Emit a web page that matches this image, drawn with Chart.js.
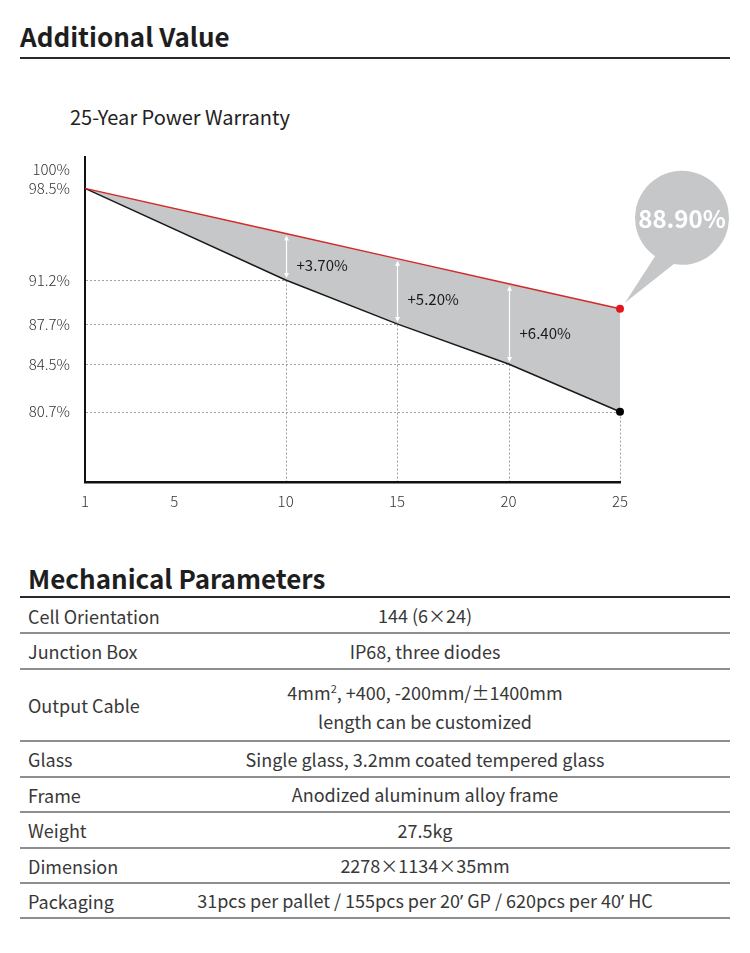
<!DOCTYPE html>
<html><head><meta charset="utf-8">
<script src="https://cdn.jsdelivr.net/npm/chart.js@4"></script>
<style>
body{margin:0;width:750px;height:953px;background:#fff;position:relative;overflow:hidden;font-family:'Noto Sans CJK SC','Noto Sans',sans-serif;color:#2a2a2a}
.abs{position:absolute}
.h{font-weight:700;color:#1e1e1e;white-space:nowrap}
.rule{position:absolute;left:20px;width:710px;height:2px;background:#2a2a2a}
.hr{position:absolute;left:20px;width:710px;height:2px;background:#8e8e8e}
.row{position:absolute;left:20px;width:710px;display:flex;align-items:center;font-size:18px;color:#383838;font-weight:400}
.row .l{position:absolute;left:8px;white-space:nowrap}
.row .v{position:absolute;left:100px;width:610px;text-align:center;white-space:nowrap;line-height:29px}
.q{font-family:'Noto Sans',sans-serif}
</style></head><body>
<div class="abs h" style="left:20px;top:23px;font-size:26px;line-height:26px">Additional Value</div>
<div class="rule" style="top:57px"></div>
<div class="abs" style="left:70px;top:105px;font-size:20px;line-height:24px;color:#222;white-space:nowrap;font-weight:400">25-Year Power Warranty</div>
<canvas id="c" width="750" height="400" class="abs" style="left:0;top:130px;width:750px;height:400px"></canvas>

<div class="abs h" style="left:28px;top:564px;font-size:26px;line-height:28px">Mechanical Parameters</div>
<div class="rule" style="top:596px"></div>
<div id="rows"></div>

<script>
// ---- chart data ----
const years = [1, 10, 15, 20, 25];
const standardWarranty = [98.5, 91.2, 87.7, 84.5, 80.7];
const linearWarranty = [98.5, 94.9, 92.9, 90.9, 88.9];
const xTickValues = [1, 5, 10, 15, 20, 25];
const yTickValues = [80.7, 84.5, 87.7, 91.2, 98.5, 100];
const gainYears = [10, 15, 20];

// ---- table data ----
const paramLabels = ['Cell Orientation', 'Junction Box', 'Output Cable', 'Glass', 'Frame', 'Weight', 'Dimension', 'Packaging'];
const paramValues = [
  ['144 (6×24)'],
  ['IP68, three diodes'],
  ['4mm², +400, -200mm/±1400mm', 'length can be customized'],
  ['Single glass, 3.2mm coated tempered glass'],
  ['Anodized aluminum alloy frame'],
  ['27.5kg'],
  ['2278×1134×35mm'],
  ['31pcs per pallet / 155pcs per 20’ GP / 620pcs per 40’ HC']
];

// table layout
const rowLines = [597, 632, 668, 740, 776, 811, 847, 882, 917];
const rowsEl = document.getElementById('rows');
function esc(s) { return s.replace(/&/g, '&amp;').replace(/</g, '&lt;'); }
paramLabels.forEach((lab, i) => {
  const top = rowLines[i] + 2, h = rowLines[i + 1] - rowLines[i] - 2;
  const r = document.createElement('div');
  r.className = 'row';
  r.style.top = top + 'px'; r.style.height = h + 'px';
  const l = document.createElement('div'); l.className = 'l'; l.textContent = lab;
  const v = document.createElement('div'); v.className = 'v';
  v.innerHTML = paramValues[i].map(s => esc(s)
    .replace('²', '<span style="font-size:11px;vertical-align:7px">2</span>')
    .replace(/’/g, '<span class="q">’</span>')).join('<br>');
  r.appendChild(l); r.appendChild(v);
  rowsEl.appendChild(r);
  const line = document.createElement('div'); line.className = 'hr'; line.style.top = rowLines[i + 1] + 'px';
  rowsEl.appendChild(line);
});

const FONT = "'Noto Sans CJK SC','Noto Sans',sans-serif";
const FILL = '#c6c7c9';

function interp(arr, xv) {
  for (let i = 0; i < years.length - 1; i++) {
    if (xv >= years[i] && xv <= years[i + 1]) {
      const t = (xv - years[i]) / (years[i + 1] - years[i]);
      return arr[i] + t * (arr[i + 1] - arr[i]);
    }
  }
  return arr[arr.length - 1];
}

const guides = {
  id: 'guides',
  beforeDatasetsDraw(chart) {
    const { ctx, chartArea, scales: { x, y } } = chart;
    ctx.save();
    ctx.strokeStyle = '#a0a0a0'; ctx.lineWidth = 1; ctx.setLineDash([2, 2]);
    for (let i = 1; i < years.length; i++) {
      const px = Math.round(x.getPixelForValue(years[i])) + 0.5;
      const py = Math.round(y.getPixelForValue(standardWarranty[i])) + 0.5;
      ctx.beginPath();
      ctx.moveTo(chartArea.left + 1, py); ctx.lineTo(px, py);
      ctx.moveTo(px, py); ctx.lineTo(px, chartArea.bottom - 1);
      ctx.stroke();
    }
    ctx.restore();
  },
  afterDatasetsDraw(chart) {
    const { ctx, scales: { x, y } } = chart;
    ctx.save();
    gainYears.forEach(yr => {
      const i = years.indexOf(yr);
      const px = Math.round(x.getPixelForValue(yr)) + 0.5;
      const yb = y.getPixelForValue(standardWarranty[i]) - 2;
      const yt = y.getPixelForValue(linearWarranty[i]) + 2;
      ctx.strokeStyle = '#fff'; ctx.fillStyle = '#fff'; ctx.lineWidth = 1.2;
      ctx.beginPath(); ctx.moveTo(px, yt + 3); ctx.lineTo(px, yb - 3); ctx.stroke();
      ctx.beginPath(); ctx.moveTo(px, yt); ctx.lineTo(px - 2.5, yt + 5); ctx.lineTo(px + 2.5, yt + 5); ctx.closePath(); ctx.fill();
      ctx.beginPath(); ctx.moveTo(px, yb); ctx.lineTo(px - 2.5, yb - 5); ctx.lineTo(px + 2.5, yb - 5); ctx.closePath(); ctx.fill();

      const txt = '+' + (linearWarranty[i] - standardWarranty[i]).toFixed(2) + '%';
      ctx.font = '15px ' + FONT;
      const w = ctx.measureText(txt).width;
      const lx = px + 10;
      const xv = x.getValueForPixel(lx + w / 2);
      const mid = (y.getPixelForValue(interp(linearWarranty, xv)) + y.getPixelForValue(interp(standardWarranty, xv))) / 2 - 3;
      ctx.fillStyle = '#1a1a1a'; ctx.textAlign = 'left'; ctx.textBaseline = 'middle';
      ctx.fillText(txt, lx, mid);
    });
    const pt = chart.getDatasetMeta(0).data[years.length - 1];
    const cx = pt.x + 62, cy = pt.y - 91, r = 47;
    const a1 = 125 * Math.PI / 180, a2 = 100 * Math.PI / 180;
    ctx.fillStyle = FILL;
    ctx.beginPath();
    ctx.moveTo(pt.x + 5, pt.y - 6);
    ctx.lineTo(cx + r * Math.cos(a1), cy + r * Math.sin(a1));
    ctx.arc(cx, cy, r, a1, a2 + 2 * Math.PI, false);
    ctx.closePath();
    ctx.fill();
    ctx.fillStyle = '#fff';
    ctx.font = 'bold 24px ' + FONT;
    ctx.textAlign = 'center'; ctx.textBaseline = 'middle';
    ctx.fillText(linearWarranty[years.length - 1].toFixed(2) + '%', cx, cy + 1);
    ctx.restore();
  }
};

new Chart(document.getElementById('c'), {
  type: 'line',
  data: {
    datasets: [
      {
        data: years.map((yr, i) => ({ x: yr, y: linearWarranty[i] })),
        borderColor: '#d32a28', borderWidth: 1.5, tension: 0,
        fill: '+1', backgroundColor: FILL,
        pointRadius: years.map((_, i) => i === years.length - 1 ? 4 : 0),
        pointBackgroundColor: '#e3161c', pointBorderWidth: 0, clip: false
      },
      {
        data: years.map((yr, i) => ({ x: yr, y: standardWarranty[i] })),
        borderColor: '#1a1a1a', borderWidth: 1.5, tension: 0, fill: false,
        pointRadius: years.map((_, i) => i === years.length - 1 ? 4 : 0),
        pointBackgroundColor: '#000', pointBorderWidth: 0, clip: false
      }
    ]
  },
  options: {
    responsive: false, animation: false, devicePixelRatio: 1,
    layout: { padding: { left: 0, right: 130, top: 27, bottom: 0 } },
    plugins: { legend: { display: false }, tooltip: { enabled: false }, filler: { drawTime: 'beforeDatasetsDraw' } },
    events: [],
    scales: {
      x: {
        type: 'linear', min: 1, max: 25,
        afterBuildTicks: s => { s.ticks = xTickValues.map(v => ({ value: v })); },
        afterFit: s => { s.height = 48; },
        grid: { display: false, drawTicks: false },
        border: { display: true, color: '#111', width: 2.5 },
        ticks: { padding: 10, color: '#333', font: { family: FONT, size: 15, weight: '300' }, callback: v => String(v), maxRotation: 0 }
      },
      y: {
        type: 'linear', min: 75.1, max: 101,
        afterBuildTicks: s => { s.ticks = yTickValues.map(v => ({ value: v })); },
        afterFit: s => { s.width = 85; },
        grid: { display: false, drawTicks: false },
        border: { display: true, color: '#111', width: 2 },
        ticks: { padding: 15, color: '#333', font: { family: FONT, size: 15, weight: '300' }, callback: v => v + '%' }
      }
    }
  },
  plugins: [guides]
});
</script>
</body></html>
